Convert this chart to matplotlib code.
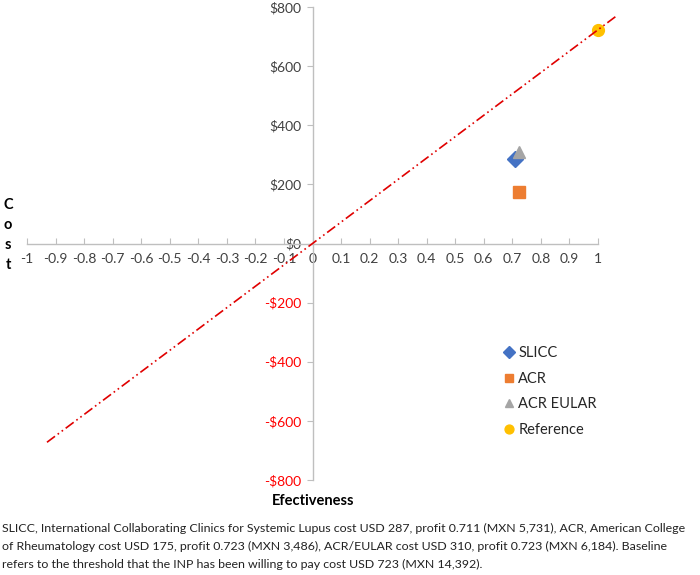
import matplotlib
matplotlib.use("Agg")
import matplotlib.pyplot as plt
import numpy as np

plt.rcParams['font.family'] = ['Lato', 'DejaVu Sans']

# Data
series_names = ["SLICC", "ACR", "ACR EULAR", "Reference"]
effectiveness = [0.711, 0.723, 0.723, 1.0]
costs = [287, 175, 310, 723]
colors = ["#4472C4", "#ED7D31", "#A5A5A5", "#FFC000"]
markers = ["D", "s", "^", "o"]
msizes = [8, 8, 8.5, 8.5]

threshold_slope = 723
line_x = [-0.93, 1.065]

x_ticks = [-1, -0.9, -0.8, -0.7, -0.6, -0.5, -0.4, -0.3, -0.2, -0.1, 0,
           0.1, 0.2, 0.3, 0.4, 0.5, 0.6, 0.7, 0.8, 0.9, 1]
y_ticks = [-800, -600, -400, -200, 0, 200, 400, 600, 800]

caption = ("SLICC, International Collaborating Clinics for Systemic Lupus cost USD 287, profit 0.711 (MXN 5,731), ACR, American College\n"
           "of Rheumatology cost USD 175, profit 0.723 (MXN 3,486), ACR/EULAR cost USD 310, profit 0.723 (MXN 6,184). Baseline\n"
           "refers to the threshold that the INP has been willing to pay cost USD 723 (MXN 14,392).")

W, H = 700, 575
fig = plt.figure(figsize=(W / 100, H / 100), dpi=100)
x0, x1 = 27, 598
y0, y1 = 7, 480
ax = fig.add_axes([x0 / W, 1 - y1 / H, (x1 - x0) / W, (y1 - y0) / H])
ax.set_xlim(-1, 1)
ax.set_ylim(-800, 800)

ax.spines['left'].set_position(('data', 0))
ax.spines['bottom'].set_position(('data', 0))
ax.spines['right'].set_visible(False)
ax.spines['top'].set_visible(False)
for s in ['left', 'bottom']:
    ax.spines[s].set_color('#BFBFBF')
    ax.spines[s].set_linewidth(1.0)

ax.set_xticks(x_ticks)
ax.set_xticklabels([f"{t:g}" for t in x_ticks])
ax.set_yticks(y_ticks)
ylabels = [("-$" if v < 0 else "$") + f"{abs(v)}" for v in y_ticks]
ax.set_yticklabels(ylabels)
ax.tick_params(axis='x', direction='in', length=4, color='#BFBFBF', labelsize=10,
               labelcolor='#404040', pad=7)
ax.tick_params(axis='y', direction='out', length=4, color='#BFBFBF', labelsize=10,
               labelcolor='#404040', pad=4)
for lbl, v in zip(ax.get_yticklabels(), y_ticks):
    if v < 0:
        lbl.set_color('#FF0000')

# threshold line
lx = np.array(line_x)
ax.plot(lx, threshold_slope * lx, color='#E00000', lw=1.2,
        linestyle=(0, (6, 2, 1, 2, 1, 2)), clip_on=False, zorder=3)

for name, xv, yv, c, m, ms in zip(series_names, effectiveness, costs, colors, markers, msizes):
    ax.plot([xv], [yv], linestyle='none', marker=m, color=c, markersize=ms,
            label=name, clip_on=False, zorder=2)

leg = ax.legend(loc='upper left', bbox_to_anchor=(489 / W, 1 - 333 / H),
                bbox_transform=fig.transFigure, frameon=False, fontsize=10.5,
                handletextpad=0.1, handlelength=1.0, labelspacing=0.8,
                markerscale=0.75)
for t in leg.get_texts():
    t.set_color('#262626')

# axis titles
for i, ch in enumerate("Cost"):
    fig.text(8 / W, 1 - (205 + i * 20) / H, ch, fontsize=10.5, fontweight='bold',
             ha='center', va='center', color='#000000')
fig.text(313 / W, 1 - 501 / H, "Efectiveness", fontsize=10.5, fontweight='bold',
         ha='center', va='center')

fig.text(2 / W, 1 - 523 / H, caption, fontsize=8.9, ha='left', va='top',
         linespacing=1.75, color='#222222')

fig.savefig("out.png", dpi=100)
